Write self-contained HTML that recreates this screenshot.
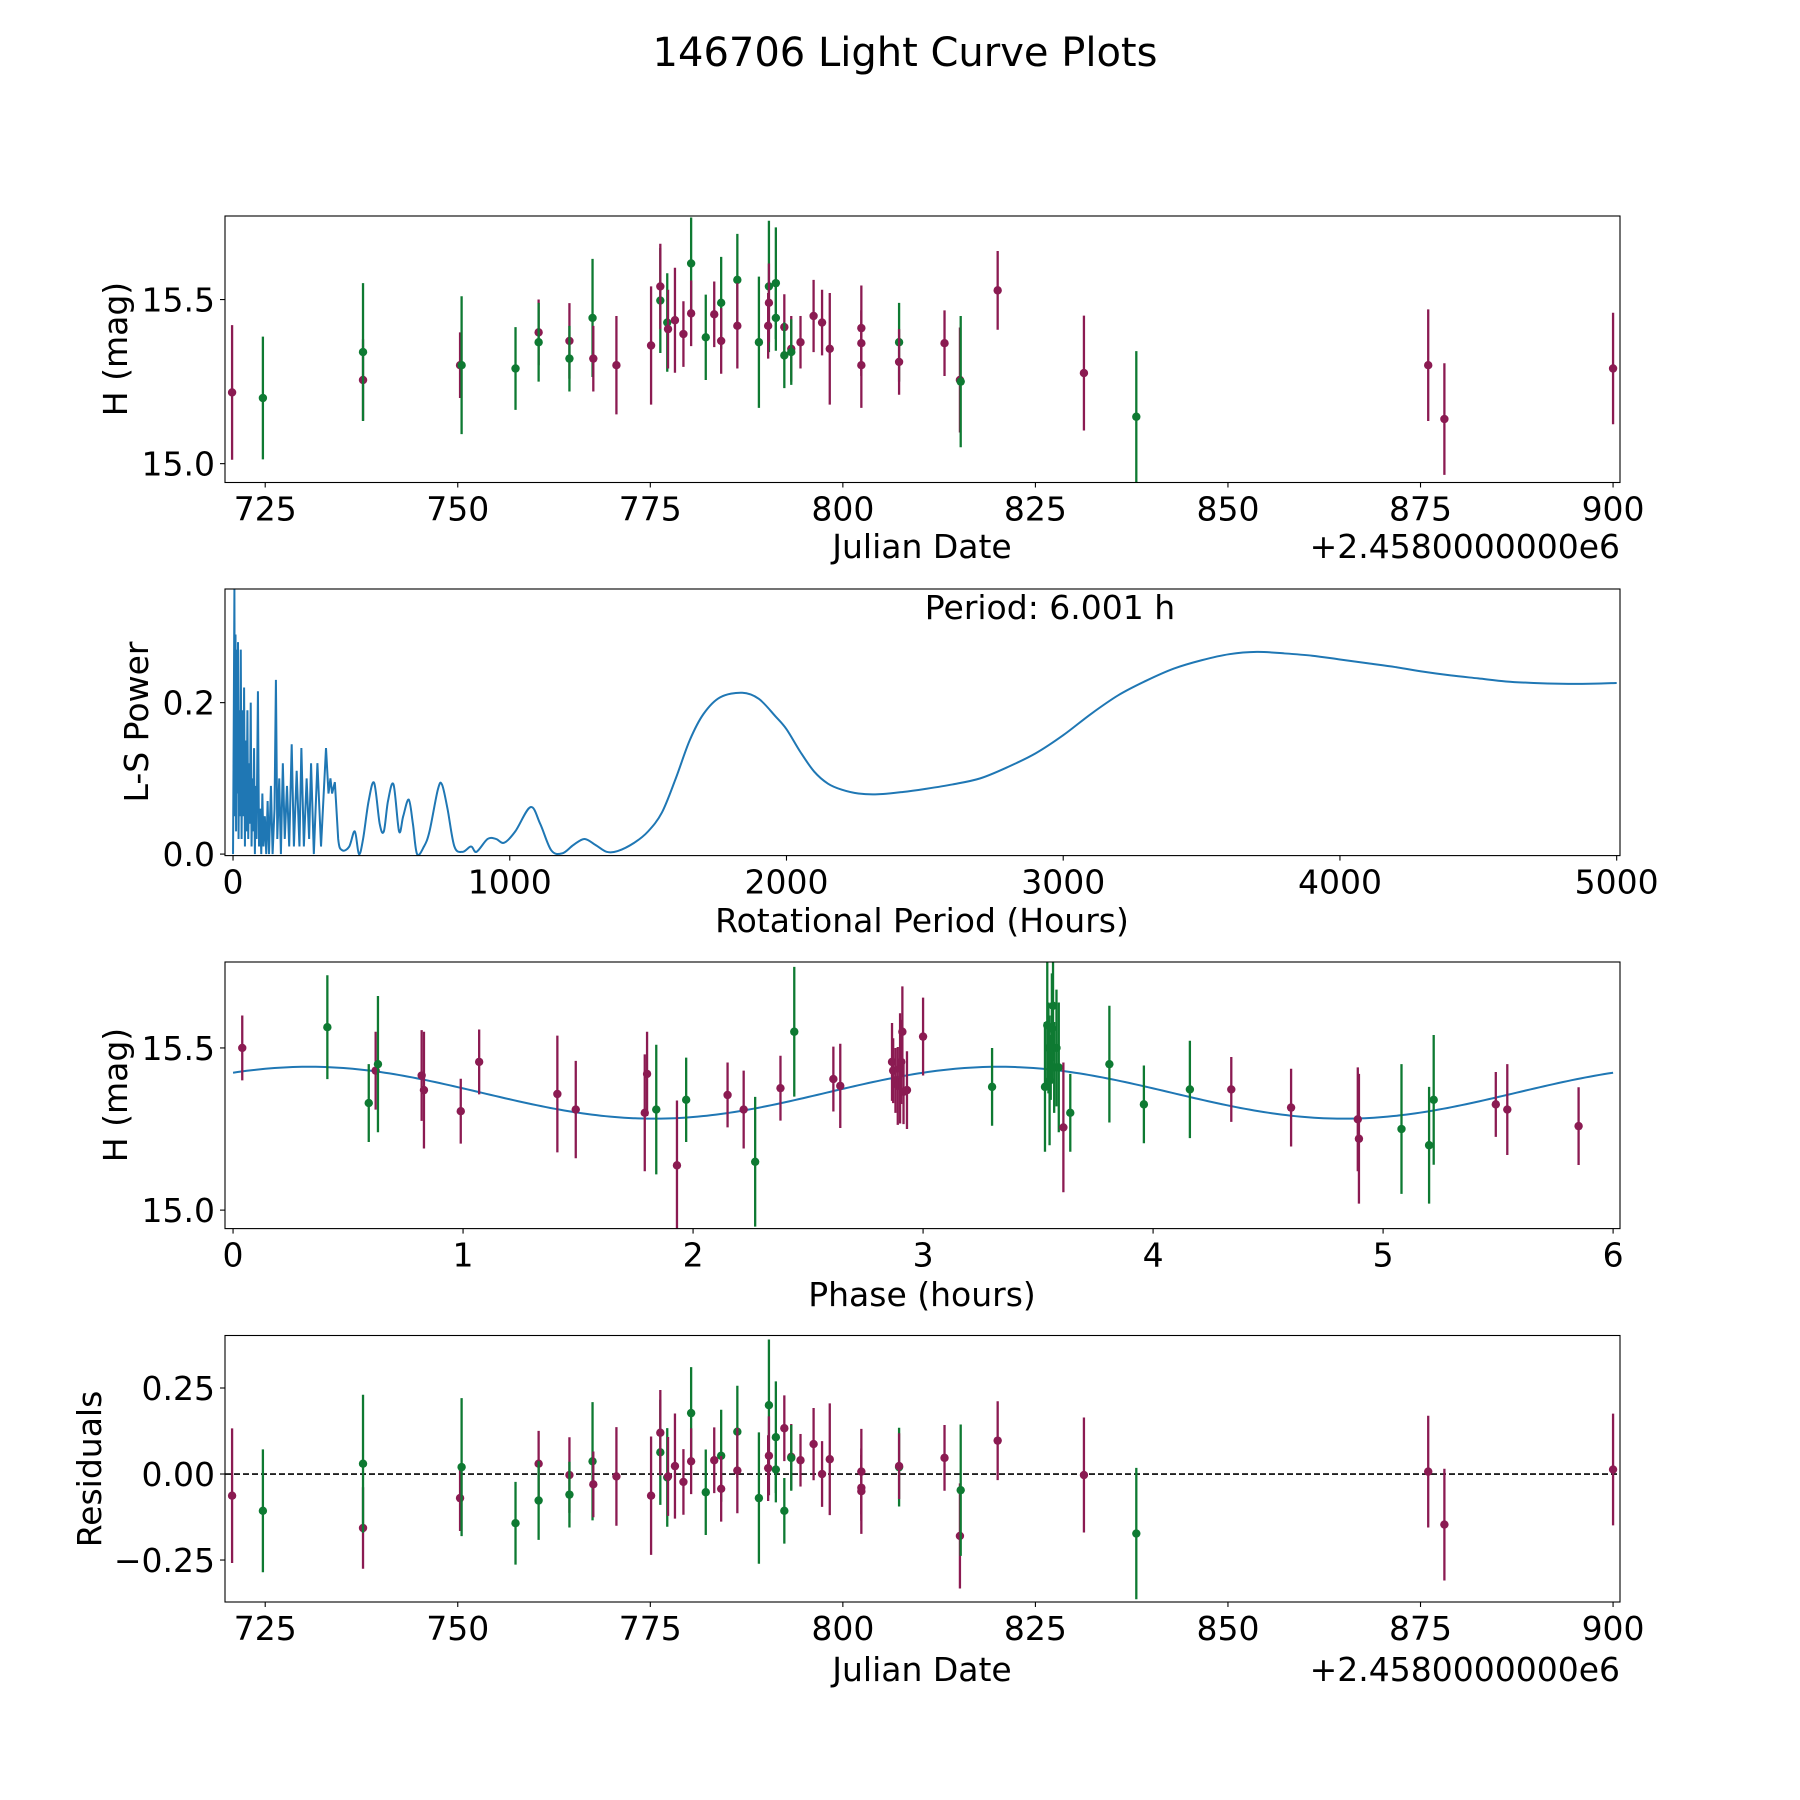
<!DOCTYPE html>
<html><head><meta charset="utf-8"><style>
html,body{margin:0;padding:0;background:#fff;}
svg{display:block;font-family:"DejaVu Sans","Liberation Sans",sans-serif;}
</style></head><body>
<svg id="fig" width="1800" height="1800" viewBox="0 0 1800 1800" xmlns="http://www.w3.org/2000/svg">
<rect width="1800" height="1800" fill="#fff"/>
<text x="905" y="66" font-size="40" text-anchor="middle">146706 Light Curve Plots</text>
</svg>
<script>
// ---- Light curve data (Julian Date offset, mag, err, filter) ----
const dates=[720.7,724.7,737.7,737.7,750.3,750.5,757.5,760.5,760.5,764.5,764.5,767.5,767.6,770.6,775.1,776.3,776.3,777.2,777.3,778.2,779.3,780.3,780.3,782.2,783.3,784.2,784.2,786.3,786.3,789.1,790.4,790.4,790.3,791.3,791.3,792.4,792.4,793.3,793.3,794.5,796.2,797.3,798.3,802.4,802.4,802.4,807.3,807.3,813.2,815.2,815.3,820.1,831.3,838.1,876.0,878.1,900.0];
const mags=[15.217,15.20,15.255,15.34,15.30,15.30,15.29,15.40,15.37,15.374,15.32,15.444,15.32,15.30,15.36,15.497,15.54,15.43,15.41,15.437,15.395,15.61,15.458,15.385,15.455,15.49,15.374,15.56,15.42,15.37,15.54,15.49,15.42,15.55,15.444,15.416,15.33,15.35,15.34,15.37,15.45,15.43,15.35,15.413,15.367,15.30,15.37,15.31,15.367,15.255,15.25,15.528,15.276,15.143,15.30,15.136,15.29];
const errs=[0.205,0.187,0.124,0.21,0.10,0.21,0.126,0.10,0.12,0.115,0.10,0.18,0.10,0.15,0.18,0.16,0.13,0.15,0.12,0.16,0.10,0.14,0.10,0.13,0.10,0.14,0.10,0.14,0.13,0.20,0.20,0.12,0.10,0.17,0.10,0.10,0.10,0.10,0.10,0.08,0.11,0.10,0.17,0.13,0.10,0.13,0.12,0.10,0.10,0.16,0.20,0.12,0.175,0.20,0.17,0.17,0.17];
const filters=["p","g","p","g","p","g","g","p","g","p","g","g","p","p","p","g","p","g","p","p","p","g","p","g","p","g","p","g","p","g","g","p","p","g","g","p","g","p","g","p","p","p","p","p","p","p","g","p","p","p","g","p","p","g","p","p","p"];
const residuals=[-0.063,-0.107,-0.157,0.03,-0.07,0.02,-0.143,0.03,-0.077,-0.003,-0.06,0.037,-0.03,-0.007,-0.063,0.063,0.12,-0.01,-0.007,0.023,-0.023,0.177,0.037,-0.053,0.04,0.053,-0.043,0.123,0.01,-0.07,0.2,0.053,0.017,0.107,0.013,0.133,-0.107,0.05,0.047,0.04,0.087,0.0,0.043,0.007,-0.04,-0.05,0.02,0.023,0.047,-0.18,-0.047,0.097,-0.003,-0.173,0.007,-0.147,0.013];
// ---- Phased data ----
const phases=[0.04,0.41,0.59,0.62,0.63,0.82,0.83,0.99,1.07,1.41,1.49,1.79,1.80,1.84,1.93,1.97,2.15,2.22,2.27,2.38,2.44,2.61,2.64,2.865,2.87,2.88,2.89,2.90,2.905,2.91,2.915,2.93,3.0,3.30,3.53,3.54,3.545,3.55,3.555,3.56,3.565,3.57,3.58,3.59,3.61,3.64,3.81,3.96,4.16,4.34,4.60,4.89,4.895,5.08,5.20,5.22,5.49,5.54,5.85];
const phaseMags=[15.50,15.564,15.33,15.43,15.45,15.415,15.37,15.305,15.457,15.358,15.31,15.30,15.42,15.31,15.138,15.34,15.355,15.31,15.149,15.376,15.55,15.404,15.383,15.457,15.43,15.40,15.383,15.437,15.457,15.55,15.365,15.37,15.535,15.38,15.38,15.57,15.50,15.40,15.44,15.56,15.63,15.44,15.50,15.44,15.255,15.30,15.45,15.326,15.372,15.372,15.316,15.28,15.22,15.25,15.20,15.34,15.326,15.31,15.259];
const phaseErrs=[0.1,0.16,0.12,0.12,0.21,0.14,0.18,0.1,0.1,0.18,0.15,0.18,0.13,0.2,0.2,0.13,0.1,0.12,0.2,0.1,0.2,0.1,0.13,0.12,0.1,0.1,0.12,0.17,0.13,0.14,0.1,0.12,0.12,0.12,0.2,0.2,0.14,0.2,0.1,0.17,0.17,0.14,0.18,0.2,0.2,0.12,0.18,0.12,0.15,0.1,0.12,0.16,0.2,0.2,0.18,0.2,0.1,0.14,0.12];
const phaseFilters=["p","g","g","p","g","p","p","p","p","p","p","p","p","g","p","g","p","p","g","p","g","p","p","p","p","p","p","p","p","p","p","p","p","g","g","g","g","g","g","g","g","g","g","g","p","g","g","g","g","p","p","p","p","g","g","g","p","p","p"];
const modelCoef=[15.362,0.08,3.0,0.33]; // mean, amplitude, period, peak phase
// ---- Periodogram ----
const periods=[0,3,5,7,9,11,13,15,18,20,23,25,28,31,34,37,40,43,46,49,52,55,58,61,64,67,70,73,76,79,82,85,90,94,98,102,106,110,115,120,125,130,137,143,150,155,160,167,173,180,187,195,203,212,220,230,240,247,256,266,275,282,292,305,318,336,345,352,358,368,380,395,420,440,455,470,490,510,530,545,560,580,600,615,635,650,665,690,710,740,755,775,800,830,860,880,920,950,980,1020,1075,1110,1150,1190,1230,1270,1310,1350,1390,1450,1500,1550,1600,1650,1700,1760,1840,1900,1960,2000,2050,2100,2150,2200,2260,2330,2420,2500,2600,2700,2800,2900,3000,3100,3200,3300,3400,3500,3600,3700,3800,3900,4000,4100,4200,4300,4400,4500,4600,4700,4800,4900,5000];
const powers=[0,0.2,0.35,0.05,0.29,0.03,0.27,0.08,0.28,0.02,0.19,0.05,0.27,0.02,0.19,0.05,0.22,0.01,0.15,0.03,0.19,0.02,0.12,0.04,0.2,0.01,0.1,0.03,0.14,0.0,0.09,0.02,0.215,0.01,0.06,0.0,0.08,0.01,0.05,0.0,0.07,0.0,0.09,0.0,0.06,0.23,0.02,0.1,0.0,0.12,0.02,0.09,0.01,0.145,0.01,0.11,0.01,0.14,0.01,0.1,0.02,0.12,0.0,0.12,0.01,0.14,0.08,0.1,0.08,0.095,0.02,0.005,0.01,0.03,0.0,0.02,0.07,0.094,0.04,0.03,0.07,0.092,0.03,0.05,0.072,0.04,0.0,0.01,0.03,0.085,0.092,0.06,0.01,0.003,0.01,0.003,0.02,0.02,0.015,0.03,0.062,0.04,0.005,0.001,0.012,0.02,0.012,0.003,0.004,0.015,0.03,0.055,0.1,0.15,0.185,0.207,0.213,0.205,0.182,0.165,0.135,0.109,0.093,0.085,0.08,0.079,0.082,0.086,0.092,0.1,0.115,0.133,0.157,0.185,0.21,0.229,0.245,0.256,0.264,0.267,0.265,0.262,0.257,0.252,0.247,0.241,0.236,0.232,0.228,0.226,0.225,0.225,0.226];
const jdTicks=[725,750,775,800,825,850,875,900];
const magTicks=[15.0,15.5];
const magTickLabels=["15.0","15.5"];
const periodTicks=[0,1000,2000,3000,4000,5000];
const powerTicks=[0.0,0.2];
const powerTickLabels=["0.0","0.2"];
const phaseTicks=[0,1,2,3,4,5,6];
const residTicks=[-0.25,0,0.25];
const residTickLabels=["\u22120.25","0.00","0.25"];

const NS="http://www.w3.org/2000/svg";
const svg=document.getElementById('fig');
const COL={p:'#8b1b52',g:'#0e7a32'};
const L=225,R=1620,FS=33;
function mk(tag,attrs,parent){const e=document.createElementNS(NS,tag);for(const k in attrs)e.setAttribute(k,attrs[k]);(parent||svg).appendChild(e);return e;}
function lin(d0,d1,r0,r1){return v=>r0+(v-d0)/(d1-d0)*(r1-r0);}

function axes(name,top,bot,xd,yd){
  const g=mk('g',{});
  
  
  return {g,top,bot,x:lin(xd[0],xd[1],L,R),y:lin(yd[0],yd[1],bot,top)};
}
function frame(a){
  const r=mk('rect',{x:L,y:a.top,width:R-L,height:a.bot-a.top,fill:'none',stroke:'#000','stroke-width':1.1},a.g);
  
  
}
function xticks(a,vals,labels){
  vals.forEach((v,i)=>{const X=a.x(v);
    mk('line',{x1:X,x2:X,y1:a.bot,y2:a.bot+5,stroke:'#000','stroke-width':1.1},a.g);
    const t=mk('text',{x:X,y:a.bot+38,'font-size':FS,'text-anchor':'middle'},a.g);
    
    
    t.textContent=labels?labels[i]:String(v);});
}
function yticks(a,vals,labels){
  vals.forEach((v,i)=>{const Y=a.y(v);
    mk('line',{x1:L-5,x2:L,y1:Y,y2:Y,stroke:'#000','stroke-width':1.1},a.g);
    const t=mk('text',{x:L-10,y:Y+12,'font-size':FS,'text-anchor':'end'},a.g);
    
    
    t.textContent=labels[i];});
}
function label(a,txt,x,y,rot,name,anchor){
  const t=mk('text',{x:x,y:y,'font-size':FS,'text-anchor':anchor||'middle'},a.g);
  if(rot)t.setAttribute('transform','rotate(-90 '+x+' '+y+')');
  
  
  t.textContent=txt;
}
function clip(a,id){const c=mk('clipPath',{id:id},a.g);mk('rect',{x:L,y:a.top,width:R-L,height:a.bot-a.top},c);return mk('g',{'clip-path':'url(#'+id+')'},a.g);}
function errpts(a,cg,xs,ys,es,fs,name){
  xs.forEach((xv,i)=>{const X=a.x(xv),c=COL[fs[i]];
    const l=mk('line',{x1:X,x2:X,y1:a.y(ys[i]-es[i]),y2:a.y(ys[i]+es[i]),stroke:c,'stroke-width':2.3},cg);
    
    
    const p=mk('circle',{cx:X,cy:a.y(ys[i]),r:4.2,fill:c},cg);
    
    });
}

// Panel 1: light curve
const a1=axes('light-curve-panel',216,482.5,[719.78,900.9],[14.9426,15.7546]);
errpts(a1,clip(a1,'c1'),dates,mags,errs,filters,'light-curve');
frame(a1);xticks(a1,jdTicks);yticks(a1,magTicks,magTickLabels);
label(a1,'Julian Date',922,558,false,'x-axis-title');
label(a1,'+2.4580000000e6',1620,558,false,'x-offset-text','end');
label(a1,'H (mag)',127,349,true,'y-axis-title');

// Panel 2: periodogram (smooth Catmull-Rom beyond the spiky region)
const a2=axes('periodogram-panel',589,855.6,[-29,5012],[-0.002,0.3501]);
const c2=clip(a2,'c2');
const P=periods.map((p,i)=>[a2.x(p),a2.y(powers[i])]);
let d='M'+P[0][0]+','+P[0][1];
for(let i=1;i<P.length;i++){
  if(periods[i]<=380){d+=' L'+P[i][0]+','+P[i][1];continue;}
  const p0=P[Math.max(i-2,0)],p1=P[i-1],p2=P[i],p3=P[Math.min(i+1,P.length-1)];
  const c1x=p1[0]+(p2[0]-p0[0])/6,c1y=p1[1]+(p2[1]-p0[1])/6;
  const c2x=p2[0]-(p3[0]-p1[0])/6,c2y=p2[1]-(p3[1]-p1[1])/6;
  d+=' C'+c1x+','+c1y+' '+c2x+','+c2y+' '+p2[0]+','+p2[1];
}
const pl=mk('path',{d:d,fill:'none',stroke:'#1f77b4','stroke-width':2},c2);


frame(a2);xticks(a2,periodTicks);yticks(a2,powerTicks,powerTickLabels);
label(a2,'Rotational Period (Hours)',922,932,false,'x-axis-title');
label(a2,'L-S Power',148,722,true,'y-axis-title');
label(a2,'Period: 6.001 h',1050,619,false,'period-annotation');

// Panel 3: phased
const a3=axes('phase-panel',962,1228.6,[-0.035,6.03],[14.943,15.765]);
const c3=clip(a3,'c3');
const mx=[];for(let i=0;i<=300;i++)mx.push(i*6/300);
const ml=mk('polyline',{points:mx.map(p=>a3.x(p)+','+a3.y(modelCoef[0]+modelCoef[1]*Math.cos(2*Math.PI*(p-modelCoef[3])/modelCoef[2]))).join(' '),fill:'none',stroke:'#1f77b4','stroke-width':2},c3);


errpts(a3,c3,phases,phaseMags,phaseErrs,phaseFilters,'phase');
frame(a3);xticks(a3,phaseTicks);yticks(a3,magTicks,magTickLabels);
label(a3,'Phase (hours)',922,1306,false,'x-axis-title');
label(a3,'H (mag)',127,1095,true,'y-axis-title');

// Panel 4: residuals
const a4=axes('residuals-panel',1335.5,1602,[719.78,900.9],[-0.372,0.4026]);
const c4=clip(a4,'c4');
const z=mk('line',{x1:L,x2:R,y1:a4.y(0),y2:a4.y(0),stroke:'#000','stroke-width':1.6,'stroke-dasharray':'6,3'},c4);


errpts(a4,c4,dates,residuals,errs.map(e=>e*0.955),filters,'residual');
frame(a4);xticks(a4,jdTicks);yticks(a4,residTicks,residTickLabels);
label(a4,'Julian Date',922,1681,false,'x-axis-title');
label(a4,'+2.4580000000e6',1620,1681,false,'x-offset-text','end');
label(a4,'Residuals',101,1469,true,'y-axis-title');
</script>
</body></html>
